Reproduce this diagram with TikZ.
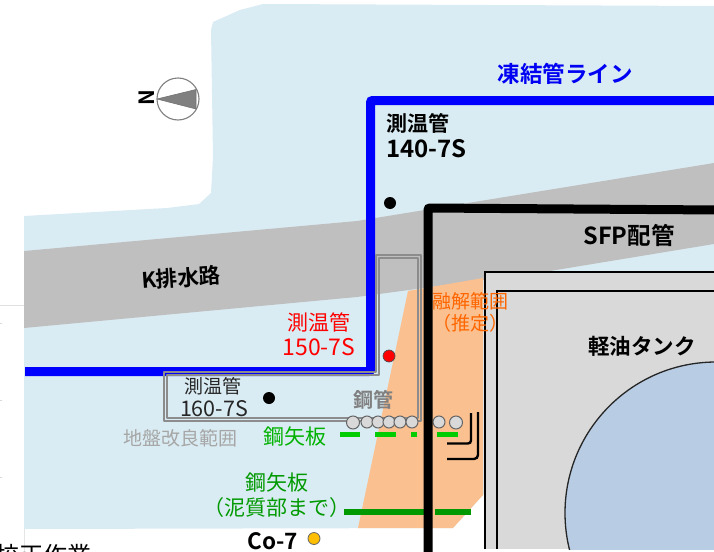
\documentclass[tikz,border=0pt]{standalone}
\usepackage{fontspec}
\setmainfont{Noto Sans CJK JP}[BoldFont={Noto Sans CJK JP Bold}]
\definecolor{seablue}{HTML}{DAECF3}
\definecolor{bandgrey}{HTML}{BFBFBF}
\definecolor{melt}{HTML}{FAC090}
\definecolor{tankgrey}{HTML}{D9D9D9}
\definecolor{tankblue}{HTML}{B8CCE4}
\definecolor{brightgreen}{HTML}{00CC00}
\definecolor{darkgreen}{HTML}{009900}
\tikzset{
  lbl/.style={inner sep=0pt,align=center,font=\fontsize{#1}{#1}\selectfont},
  blbl/.style={inner sep=0pt,align=center,font=\fontsize{#1}{#1}\selectfont\bfseries},
  pipecircle/.style={circle,draw=black!60,fill=tankgrey,line width=1pt,inner sep=0pt},
  probe/.style={circle,fill=black,inner sep=0pt,minimum size=12pt},
  ground/.style={draw=black!45,line width=1.1pt,line join=round}
}
\begin{document}
\begin{tikzpicture}[x=1pt,y=-1pt]
\useasboundingbox (0,0) rectangle (714,551);
\clip (0,0) rectangle (714,551);
\fill[white] (0,0) rectangle (714,551);
% faint page remnants
\draw[black!12,line width=.8pt] (0,305) -- (24,305);
\draw[black!10,line width=.8pt] (24,529) -- (24,551);
\foreach \t in {323,400,477}
  \draw[black!15,line width=.8pt] (0,\t) -- (2,\t);
% sea-blue ground
\fill[seablue] (24,216) -- (167,208) -- (199,204) -- (211,193) -- (213,157) -- (211,30) -- (213,22) -- (240,10) -- (263,4) -- (714,6) -- (714,300) -- (483,495) -- (453,528) -- (24,529) -- cycle;
% K drain band
\fill[bandgrey] (24,251) -- (357,221) -- (714,163) -- (714,244) -- (544,272) -- (483,280) -- (357,297) -- (24,328) -- cycle;
% melted range
\fill[melt] (408,291) -- (483,278) -- (483,495) -- (453,528) -- (358,528) -- cycle;
% tank
\fill[tankgrey] (485,272) rectangle (714,549);
\draw[black,line width=1.3pt] (485,549) -- (485,272) -- (720,272);
\draw[black,line width=1.4pt] (497,549) -- (497,291) -- (720,291);
\begin{scope}
\clip (497,291) rectangle (714,549);
\filldraw[fill=tankblue,draw=black!85,line width=1.3pt] (716,513) circle[radius=151];
\end{scope}
% freeze line
\draw[blue,line width=9pt,rounded corners=2pt] (25,371.5) -- (370.5,371.5) -- (370.5,100.5) -- (720,100.5);
% ground-improvement outline
\draw[ground] (164,372) -- (376,372) -- (376,255) -- (421,255) -- (421,421) -- (164,421) -- cycle;
\draw[ground] (167,375) -- (379,375) -- (379,258) -- (418,258) -- (418,418) -- (167,418) -- cycle;
% steel pipes
\node[pipecircle,minimum size=13pt] (p1) at (353,422.5) {};
\node[pipecircle,minimum size=12pt] (p2) at (367,422) {};
\node[pipecircle,minimum size=12pt] (p3) at (378,422) {};
\node[pipecircle,minimum size=12pt] (p4) at (389,422) {};
\node[pipecircle,minimum size=12pt] (p5) at (400,422) {};
\node[pipecircle,minimum size=12pt] (p6) at (412,422) {};
\node[pipecircle,minimum size=12pt] (p7) at (439,422) {};
\node[pipecircle,minimum size=13pt] (p8) at (456,422.5) {};
% sheet piles
\foreach \a/\b in {340/360,375/396,411/417,437/458}
  \draw[brightgreen,line width=5pt] (\a,434.5) -- (\b,434.5);
\draw[darkgreen,line width=6pt] (344,511.5) -- (424,511.5);
\draw[darkgreen,line width=6pt] (435,511.5) -- (471,511.5);
% brackets
\draw[black,line width=2.4pt,rounded corners=3pt] (471,413) -- (471,443.5) -- (447,443.5);
\draw[black,line width=2.4pt,rounded corners=4pt] (478,412) -- (478,459) -- (447,459);
% SFP pipe
\draw[black,line width=9pt,rounded corners=2pt] (428,560) -- (428,208) -- (720,210);
% probes
\node[probe] (d140) at (390,203) {};
\node[probe] (d160) at (269,398) {};
\node[probe,fill=red,draw=black!70,line width=.7pt] (d150) at (389,356) {};
\node[probe,fill=orange!50!yellow,draw=black!60,line width=.8pt] (co7) at (314,538.5) {};
% compass
\draw[black!50,line width=1.1pt,fill=white] (178,99) circle[radius=21];
\filldraw[fill=black!50,draw=black!55,line width=.6pt] (157,99) -- (196,89.5) -- (196,109) -- cycle;
\node[blbl=21,rotate=90] (north) at (146.5,98) {N};
% labels
\node[blbl=22.5,text=blue!95!black] (freeze) at (565,74) {凍結管ライン};
\node[blbl=21] (t140a) at (418,123) {測温管};
\node[blbl=24] (t140b) at (426.5,149) {140-7S};
\node[blbl=21.5,rotate=4] (kdrain) at (181,278) {K排水路};
\node[blbl=23.5] (sfp) at (629,235) {SFP配管};
\node[lbl=21,text=red] (t150a) at (319,322) {測温管};
\node[lbl=23,text=red] (t150b) at (319,347) {150-7S};
\node[lbl=19,text=black!85] (t160a) at (213,386) {測温管};
\node[lbl=21.5,text=black!85] (t160b) at (214,409) {160-7S};
\node[lbl=19,text=black!35] (ground) at (180,438) {地盤改良範囲};
\node[lbl=21,text=green!70!black] (sheet1) at (295,436) {鋼矢板};
\node[lbl=21,text=green!60!black] (sheet2) at (277,482) {鋼矢板};
\node[lbl=21,text=green!60!black] (sheet3) at (277,508) {（泥質部まで）};
\node[blbl=22.5] (co7t) at (273,541) {Co-7};
\node[lbl=19,text=orange!80!red] (melta) at (470,301) {融解範囲};
\node[lbl=19,text=orange!80!red] (meltb) at (470,323) {（推定）};
\node[blbl=20,text=black!50] (steel) at (373,400) {鋼管};
\node[blbl=21.5] (tank) at (642,346) {軽油タンク};
\node[lbl=24,anchor=west] (cut) at (-5,555) {校正作業};
\end{tikzpicture}
\end{document}
